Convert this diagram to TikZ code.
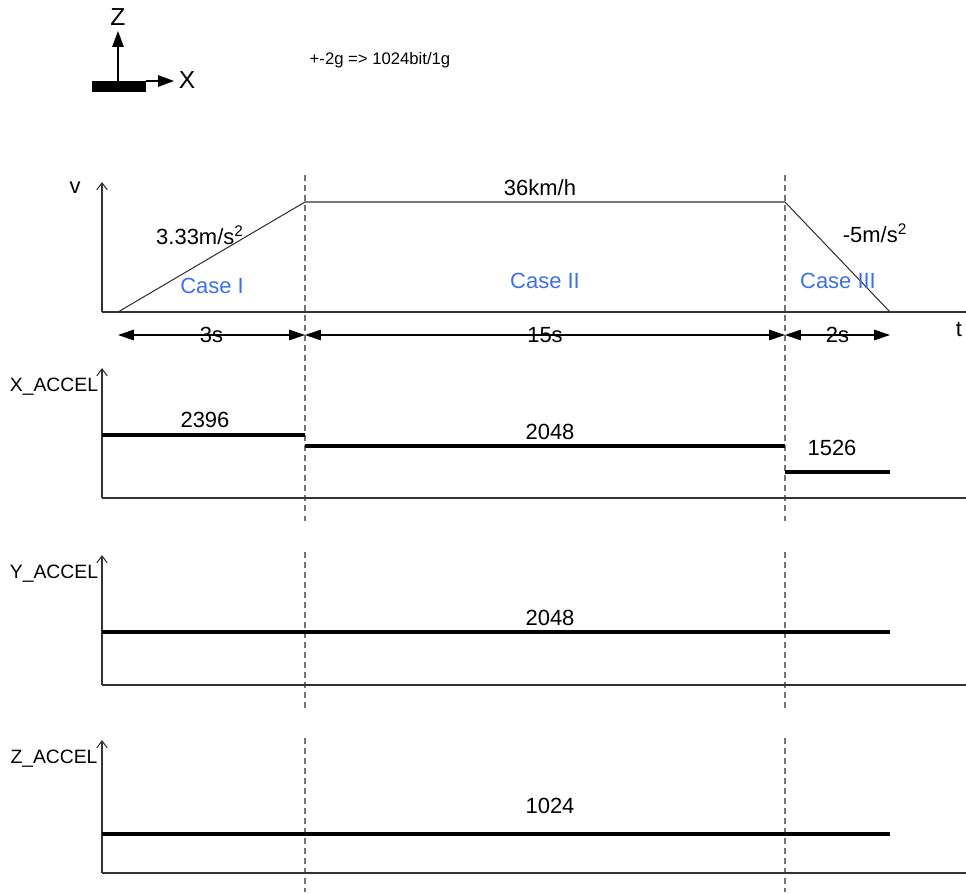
\documentclass[tikz,border=0pt]{standalone}
\usepackage{fontspec}
\setmainfont{Liberation Sans}
\usetikzlibrary{arrows.meta}
\definecolor{caseblue}{RGB}{61,112,235}
\newcommand{\axl}{102}
\newcommand{\tsa}{118}
\newcommand{\tsb}{305}
\newcommand{\tsc}{785}
\newcommand{\tsd}{890}
\newcommand{\axr}{966}
\newcommand{\dimy}{335}
\tikzset{
  lbl/.style={font=\fontsize{12.5}{14}\selectfont, inner sep=0pt},
  axlbl/.style={font=\fontsize{11}{13}\selectfont, inner sep=0pt},
  caselbl/.style={lbl, text=caseblue},
  axisline/.style={draw=black!80, line width=0.85pt},
  axisarrow/.style={axisline, -{Straight Barb[length=4pt,width=6pt,line width=0.6pt]}},
  levelline/.style={draw=black, line width=2.3pt},
  sepline/.style={draw=black!55, line width=0.6pt, dash pattern=on 3.4pt off 2.3pt},
  dimarrow/.style={draw=black, line width=0.6pt,
    {Triangle[length=9pt,width=6pt]}-{Triangle[length=9pt,width=6pt]}},
  iconarrow/.style={draw=black, line width=0.7pt, -{Triangle[length=9pt,width=6.5pt]}}
}
\begin{document}
\begin{tikzpicture}[x=0.02cm,y=-0.02cm]
  \useasboundingbox (0,0) rectangle (966,892);

  % orientation icon
  \fill (92,81) rectangle (146,92);
  \coordinate (org) at (118,81);
  \coordinate (orgx) at (146,81);
  \node[lbl, font=\fontsize{14}{16}\selectfont] (zname) at (118,17) {Z};
  \node[lbl, font=\fontsize{14}{16}\selectfont] (xname) at (187,80) {X};
  \draw[iconarrow] (org) -- (118,31);
  \draw[iconarrow] (orgx) -- (174,81);
  \node[font=\fontsize{9.5}{11}\selectfont, inner sep=0pt] (scale) at (380,60) {+-2g => 1024bit/1g};

  % separators
  \foreach \x in {\tsb,\tsc} {
    \draw[sepline] (\x,175) -- (\x,523);
    \draw[sepline] (\x,552) -- (\x,710);
    \draw[sepline] (\x,738) -- (\x,892);
  }

  % axes
  \foreach \name/\yb/\yt/\txt in {xa/498/368/X\_ACCEL,
      ya/685/555/Y\_ACCEL, za/873/740/Z\_ACCEL} {
    \coordinate (\name o) at (\axl,\yb);
    \coordinate (\name t) at (\axl,\yt);
    \coordinate (\name r) at (\axr,\yb);
    \draw[axisline] (\name o) -- (\name r);
    \draw[axisarrow] (\name o) -- (\name t);
    \node[axlbl] (\name lbl) at (54,\yt+19) {\txt};
  }
  \coordinate (vo) at (\axl,312);
  \coordinate (vt) at (\axl,182);
  \coordinate (vr) at (\axr,312);
  \draw[axisline] (vo) -- (vr);
  \draw[axisarrow] (vo) -- (vt);
  \node[lbl] (vlbl) at (75,188) {v};
  \node[lbl] (tlbl) at (959,329) {t};

  % speed profile
  \coordinate (p0) at (\tsa,312);
  \coordinate (p1) at (\tsb,202);
  \coordinate (p2) at (\tsc,202);
  \coordinate (p3) at (\tsd,312);
  \draw[draw=black!80, line width=0.6pt] (p0) -- (p1) -- (p2) -- (p3);
  \node[lbl] (vmax) at (540,188) {36km/h};
  \node[lbl] (acc) at (200,235) {3.33m/s\textsuperscript{2}};
  \node[lbl] (dec) at (875,233) {-5m/s\textsuperscript{2}};
  \node[caselbl] (case1) at (212,286) {Case I};
  \node[caselbl] (case2) at (545,281) {Case II};
  \node[caselbl] (case3) at (838,281) {Case III};

  % durations
  \coordinate (d0) at (\tsa,\dimy);
  \coordinate (d1) at (\tsb,\dimy);
  \coordinate (d2) at (\tsc,\dimy);
  \coordinate (d3) at (\tsd,\dimy);
  \draw[dimarrow] (d0) -- node[lbl] (dur1) {3s} (d1);
  \draw[dimarrow] (d1) -- node[lbl] (dur2) {15s} (d2);
  \draw[dimarrow] (d2) -- node[lbl] (dur3) {2s} (d3);

  % X_ACCEL
  \draw[levelline] (\axl,435) -- (\tsb,435);
  \draw[levelline] (\tsb,446) -- (\tsc,446);
  \draw[levelline] (\tsc,472) -- (\tsd,472);
  \node[lbl] (xv1) at (205,420) {2396};
  \node[lbl] (xv2) at (550,432) {2048};
  \node[lbl] (xv3) at (832,448) {1526};

  % Y_ACCEL
  \draw[levelline] (\axl,632) -- (\tsd,632);
  \node[lbl] (yv) at (550,618) {2048};

  % Z_ACCEL
  \draw[levelline] (\axl,834) -- (\tsd,834);
  \node[lbl] (zv) at (550,806) {1024};
\end{tikzpicture}
\end{document}
